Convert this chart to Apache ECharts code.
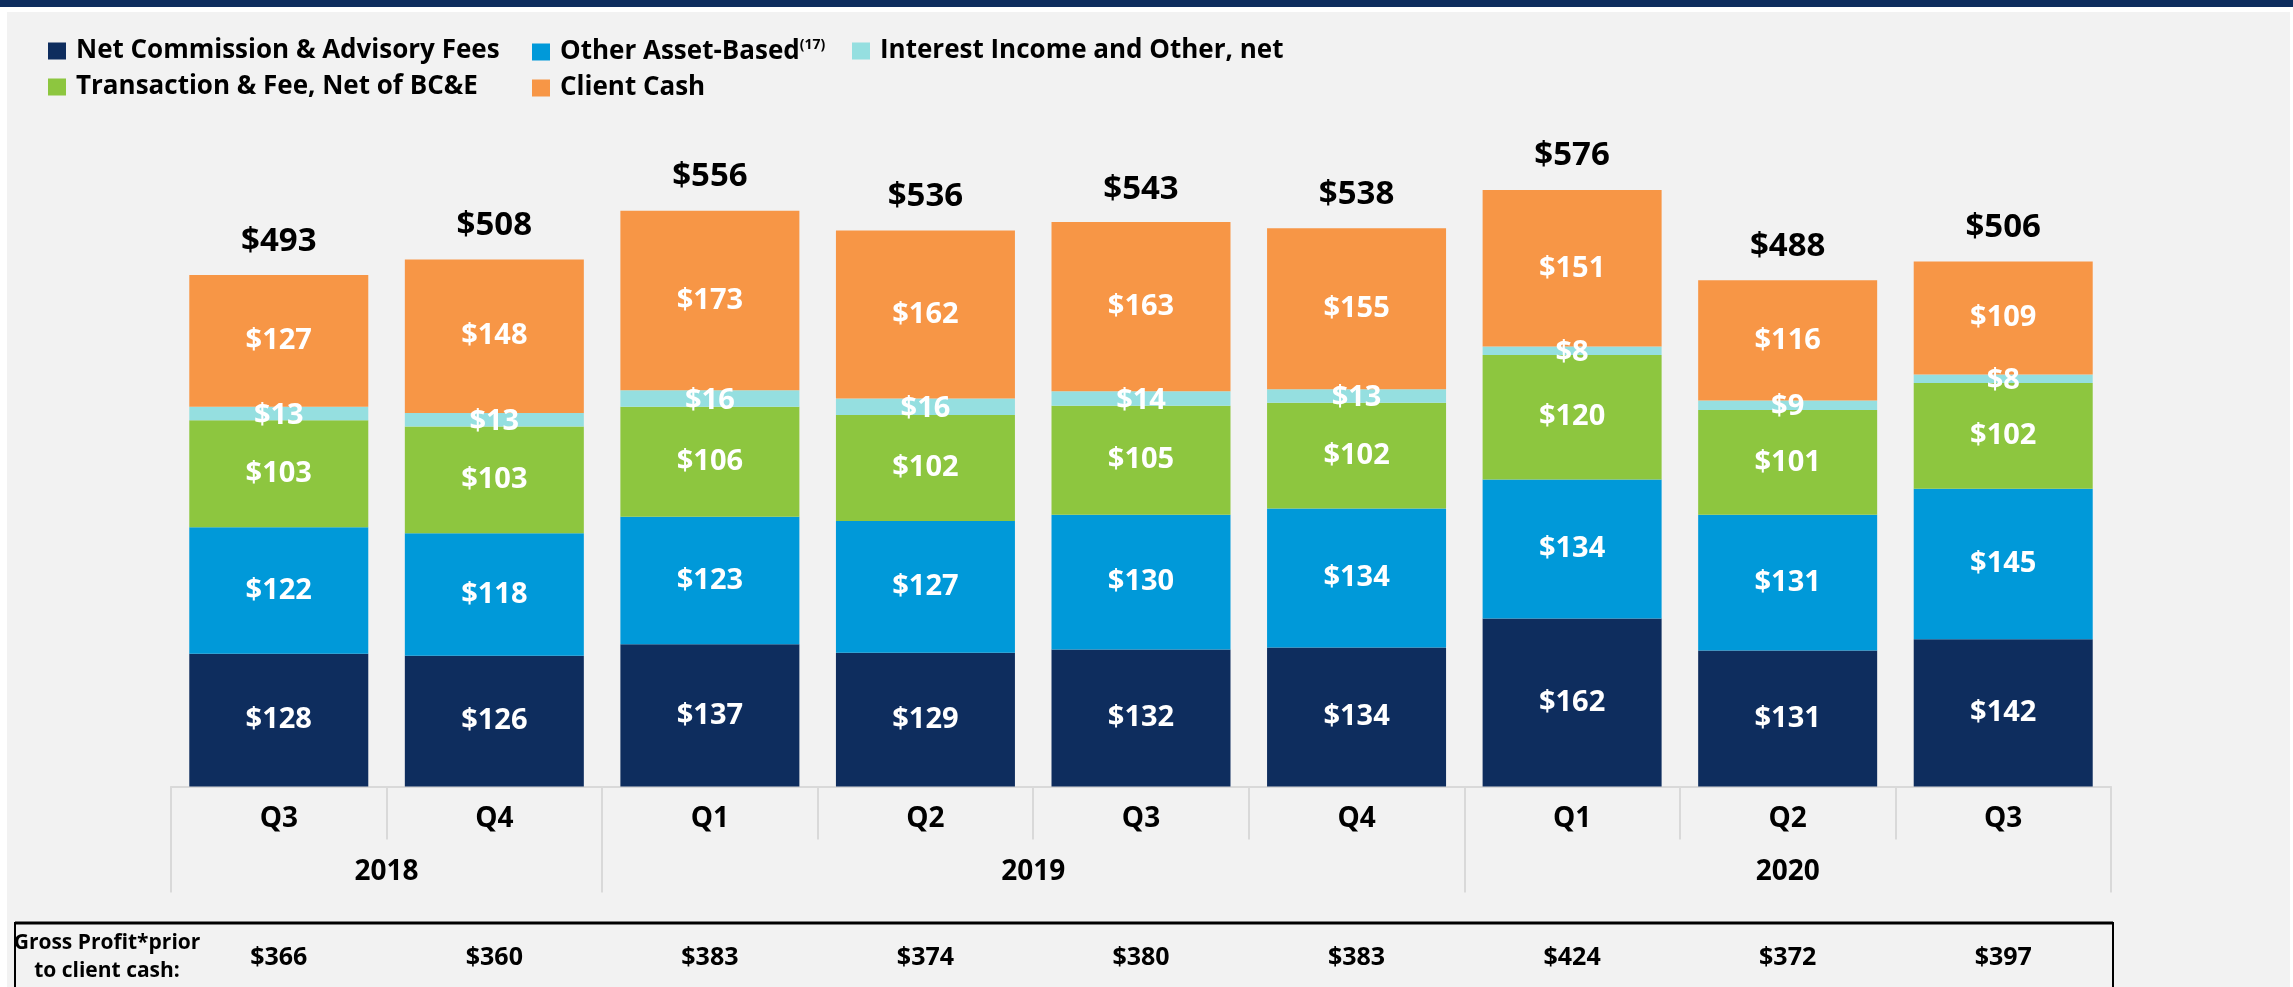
<!DOCTYPE html>
<html><head><meta charset="utf-8">
<script src="https://cdn.jsdelivr.net/npm/echarts@6/dist/echarts.min.js"></script>
<style>html,body{margin:0;padding:0;background:#fff}#c{width:2293px;height:987px}</style>
</head><body><div id="c"></div>
<script>
const quarters = ['Q3','Q4','Q1','Q2','Q3','Q4','Q1','Q2','Q3'];
const years = ['2018','2019','2020'];
const yearSpans = [2,4,3];
const netCommission = [128,126,137,129,132,134,162,131,142];
const otherAssetBased = [122,118,123,127,130,134,134,131,145];
const transactionFee = [103,103,106,102,105,102,120,101,102];
const interestIncome = [13,13,16,16,14,13,8,9,8];
const clientCash = [127,148,173,162,163,155,151,116,109];
const totals = [493,508,556,536,543,538,576,488,506];
const grossProfitPrior = [366,360,383,374,380,383,424,372,397];
const rowLabel = 'Gross Profit*prior\nto client cash:';

const F = "'Open Sans', 'Noto Sans', sans-serif";
const names = ['Net Commission & Advisory Fees','Other Asset-Based','Interest Income and Other, net','Transaction & Fee, Net of BC&E','Client Cash'];

// year boundaries and centres, from spans
const yearBounds = [0]; const yearCenters = [];
yearSpans.forEach((s,i)=>{ yearCenters.push(yearBounds[i] + s/2); yearBounds.push(yearBounds[i] + s); });

const chart = echarts.init(document.getElementById('c'));

function bar(name, data, color, offsetY) {
  return {
    name, type:'bar', stack:'gp', data, barWidth:179, xAxisIndex:0, yAxisIndex:0,
    itemStyle:{color},
    emphasis:{disabled:true},
    label:{show:true, position:'inside', color:'#fff', fontFamily:F, fontWeight:'bold', fontSize:29,
      offset:[0, offsetY||0], formatter:p=>'$'+p.value}
  };
}

const legendCommon = {
  orient:'vertical', icon:'rect', itemWidth:18, itemHeight:17, itemGap:10, top:33,
  selectedMode:false,
  textStyle:{fontFamily:F, fontWeight:'bold', fontSize:26, color:'#000', padding:[0,0,0,5],
    rich:{sup:{fontFamily:F, fontWeight:'bold', fontSize:14, color:'#000', padding:[0,0,14,0]}}},
  formatter:n=> n==='Other Asset-Based' ? n+'{sup|(17)}' : n
};

chart.setOption({
  backgroundColor:'#ffffff',
  animation:false,
  graphic:[
    {type:'rect', z:-10, shape:{x:0,y:0,width:2293,height:7}, style:{fill:'#0e2d5e'}},
    {type:'rect', z:-10, shape:{x:7,y:12,width:2283,height:975}, style:{fill:'#f2f2f2'}},
    {type:'rect', z:1, shape:{x:15,y:923,width:2098,height:120}, style:{fill:'none', stroke:'#000', lineWidth:2}},
    {type:'line', z:1, shape:{x1:15,y1:923,x2:2113,y2:923}, style:{stroke:'#000', lineWidth:3}},
    {type:'text', z:1, x:107, y:957, style:{text:rowLabel, fontFamily:F, fontWeight:'bold', fontSize:21, lineHeight:28,
      fill:'#000', align:'center', verticalAlign:'middle'}}
  ],
  legend:[
    Object.assign({}, legendCommon, {left:43, data:[names[0], names[3]]}),
    Object.assign({}, legendCommon, {left:527, data:[names[1], names[4]]}),
    Object.assign({}, legendCommon, {left:847, data:[names[2]]})
  ],
  grid:{left:171, right:182, top:164, bottom:200.5, containLabel:false},
  xAxis:[
    {type:'category', data:quarters, position:'bottom',
      axisLine:{show:true, lineStyle:{color:'#d9d9d9', width:2}},
      axisTick:{show:true, interval:0, length:53, alignWithLabel:false, lineStyle:{color:'#d9d9d9', width:2}},
      axisLabel:{interval:0, margin:19, fontFamily:F, fontWeight:'bold', fontSize:28, color:'#000'}},
    {type:'value', min:0, max:quarters.length, position:'bottom',
      axisLine:{show:false}, splitLine:{show:false},
      axisTick:{show:true, customValues:yearBounds, length:106, lineStyle:{color:'#d9d9d9', width:2}},
      axisLabel:{customValues:yearCenters, margin:72, fontFamily:F, fontWeight:'bold', fontSize:28, color:'#000',
        formatter:v=>{const i=yearCenters.indexOf(v); return i>=0?years[i]:'';}}},
    {type:'category', data:quarters, position:'bottom',
      axisLine:{show:false}, axisTick:{show:false},
      axisLabel:{interval:0, margin:159, fontFamily:F, fontWeight:'bold', fontSize:25, color:'#000',
        formatter:(v,i)=>'$'+grossProfitPrior[i]}}
  ],
  yAxis:{type:'value', min:0, max:600, show:false, splitLine:{show:false}},
  series:[
    bar(names[0], netCommission, '#0e2d5e'),
    bar(names[1], otherAssetBased, '#0099d9'),
    bar(names[3], transactionFee, '#8dc63f'),
    bar(names[2], interestIncome, '#95dfe0', 2),
    bar(names[4], clientCash, '#f79646'),
    {type:'scatter', data:totals, xAxisIndex:0, yAxisIndex:0, symbolSize:0, itemStyle:{color:'#000', opacity:1},
      silent:true, z:5,
      label:{show:true, position:'top', distance:17, fontFamily:F, fontWeight:'bold', fontSize:33, color:'#000', opacity:1,
        formatter:p=>'$'+p.value}}
  ]
});
</script></body></html>
